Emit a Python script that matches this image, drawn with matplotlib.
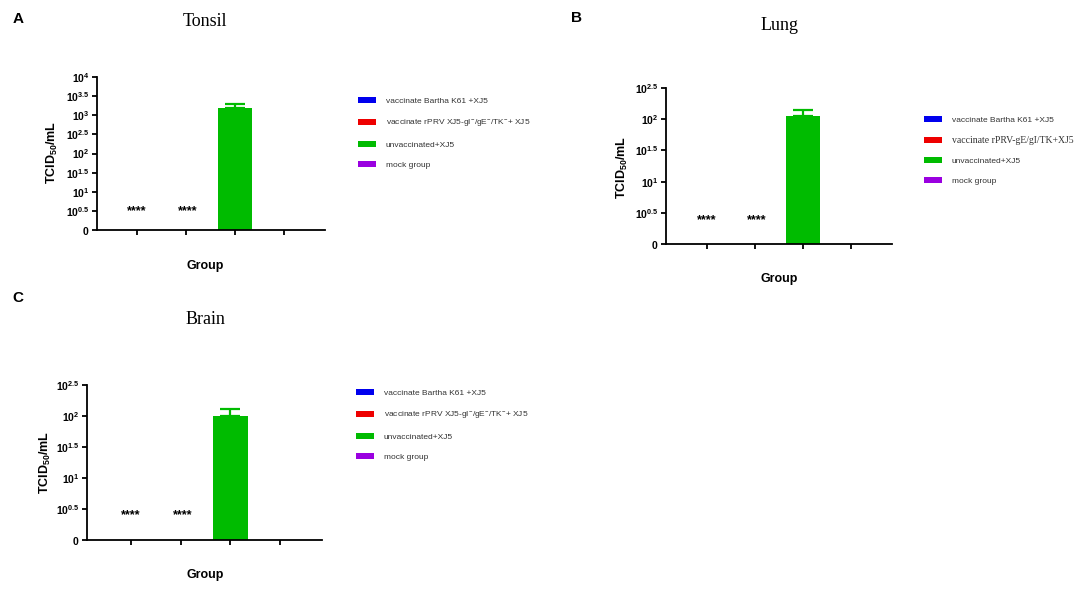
import matplotlib
matplotlib.use("Agg")
import matplotlib.pyplot as plt
import numpy as np

plt.rcParams['font.family'] = ['Liberation Sans', 'DejaVu Sans']
plt.rcParams['mathtext.fontset'] = 'custom'
plt.rcParams['mathtext.rm'] = 'Liberation Sans'
plt.rcParams['mathtext.bf'] = 'Liberation Sans:bold'

# groups and colours
groups = ['vaccinate Bartha K61 +XJ5',
          'vaccinate rPRV XJ5-gI$^{-}$/gE$^{-}$/TK$^{-}$+ XJ5',
          'unvaccinated+XJ5',
          'mock group']
groups_b = ['vaccinate Bartha K61 +XJ5',
            'vaccinate rPRV-gE/gI/TK+XJ5',
            'unvaccinated+XJ5',
            'mock group']
colors = ['#0000EE', '#EE0000', '#00BB00', '#9A00E0']

# log10 TCID50/mL, upper error
tonsil_vals = [0, 0, 3.19, 0]
tonsil_err = [0, 0, 0.10, 0]
lung_vals = [0, 0, 2.05, 0]
lung_err = [0, 0, 0.10, 0]
brain_vals = [0, 0, 2.0, 0]
brain_err = [0, 0, 0.11, 0]

star_groups = [0, 1]
tonsil_star = 0.5
lung_star = 0.38
brain_star = 0.40

W, H = 1084, 594
fig = plt.figure(figsize=(W / 100, H / 100), dpi=100)


def px(x, y):
    return x / W, 1 - y / H


def panel(rect, vals, err, ymax, star_y, labels, title, title_xy, letter, letter_xy,
          group_xy, ylab_xy, leg_xy, xlim):
    ax = fig.add_axes(rect)
    x = np.arange(len(vals))
    ax.bar(x, vals, width=0.7, color=colors, label=labels, linewidth=0)
    ax.errorbar(x[2], vals[2], yerr=[[0], [err[2]]], fmt='none', ecolor=colors[2],
                elinewidth=1.6, capsize=7, capthick=1.6)
    for g in star_groups:
        ax.text(g + 0.04 * g, star_y, '****', ha='center', va='center', fontsize=9,
                fontweight='bold')
    ax.set_xlim(*xlim)
    ax.set_ylim(0, ymax)
    ax.set_xticks(x)
    ax.set_xticklabels([])
    ticks = np.arange(0, ymax + 0.01, 0.5)
    ax.set_yticks(ticks)
    tl = ['$\\mathbf{0}$']
    for t in ticks[1:]:
        s = '%g' % t
        tl.append('$\\mathbf{10^{%s}}$' % s)
    ax.set_yticklabels(tl, fontsize=7.5)
    for s in ['top', 'right']:
        ax.spines[s].set_visible(False)
    for s in ['left', 'bottom']:
        ax.spines[s].set_linewidth(1.3)
    ax.tick_params(axis='both', length=3.5, width=1.3, pad=2)

    fig.text(*title_xy, title, family='Liberation Serif', fontsize=13, ha='center', va='center')
    fig.text(*letter_xy, letter, fontsize=11, fontweight='bold', ha='center', va='center')
    fig.text(*group_xy, 'Group', fontsize=9, fontweight='bold', ha='center', va='center')
    fig.text(*ylab_xy, 'TCID$_{\\mathbf{50}}$/mL', fontsize=9, fontweight='bold', rotation=90,
             ha='center', va='center')
    leg = ax.legend(loc='upper left', bbox_to_anchor=leg_xy, bbox_transform=fig.transFigure,
                    frameon=False, fontsize=6, handlelength=2.2, handleheight=0.75,
                    handletextpad=1.1, labelspacing=1.45, borderpad=0, borderaxespad=0)
    for t in leg.get_texts():
        t.set_color('#333333')
    return ax, leg


panel([97 / W, 1 - 230 / H, 228 / W, 153 / H], tonsil_vals, tonsil_err, 4, tonsil_star,
      groups, 'Tonsil', px(205, 21), 'A', px(18, 19), px(205, 266), px(52, 152),
      px(358, 97), (-0.82, 3.84))

ax_b, leg_b = panel([666 / W, 1 - 244 / H, 226 / W, 156 / H], lung_vals, lung_err, 2.5, lung_star,
                    groups_b, 'Lung', px(780, 26), 'B', px(577, 18), px(779, 279), px(622, 167),
                    px(924, 116), (-0.85, 3.85))
leg_b.get_texts()[1].set_family('Liberation Serif')
leg_b.get_texts()[1].set_fontsize(7)

panel([87 / W, 1 - 540 / H, 235 / W, 155 / H], brain_vals, brain_err, 2.5, brain_star,
      groups, 'Brain', px(205, 320), 'C', px(18, 298), px(205, 575), px(45, 462),
      px(356, 389), (-0.89, 3.85))

fig.savefig('out.png', dpi=100)
